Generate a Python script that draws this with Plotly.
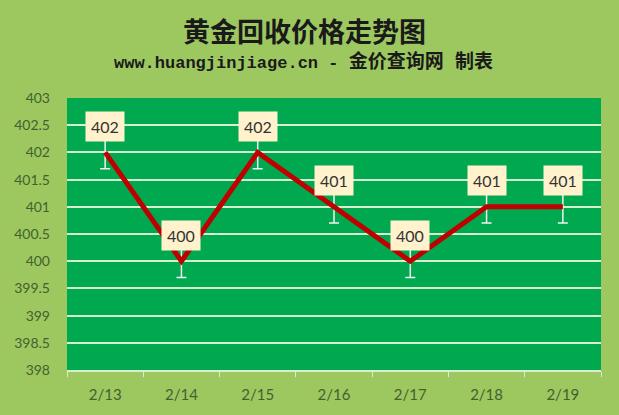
import plotly.graph_objects as go

# 日期与回收价格
dates = ["2/13", "2/14", "2/15", "2/16", "2/17", "2/18", "2/19"]
prices = [402, 400, 402, 401, 400, 401, 401]
err = [0.3, 0.3, 0.3, 0.3, 0.3, 0.3, 0.3]
y_ticks = [398, 398.5, 399, 399.5, 400, 400.5, 401, 401.5, 402, 402.5, 403]

paper_bg = "#9DC860"
plot_bg = "#00A84F"
tick_color = "#43612F"

fig = go.Figure()

fig.add_trace(go.Scatter(
    x=dates,
    y=prices,
    mode="lines",
    line=dict(color="#C00000", width=5),
    error_y=dict(type="data", array=err, color="#F2F2F2", thickness=1.5, width=5),
    hoverinfo="x+y",
))

# 数据标签（带底色）
for d, p in zip(dates, prices):
    fig.add_annotation(
        x=d, y=p, text=str(p), showarrow=False, yshift=26,
        bgcolor="#FFF2CC", borderpad=5,
        font=dict(family="Lato, Open Sans, sans-serif", size=16, color="#333333"),
    )

fig.update_layout(
    width=619,
    height=415,
    paper_bgcolor=paper_bg,
    plot_bgcolor=plot_bg,
    margin=dict(l=67, r=18, t=98, b=41),
    showlegend=False,
    title=dict(
        text="黄金回收价格走势图",
        x=0.492, xref="container", y=0.922, yanchor="middle",
        font=dict(family="Noto Sans CJK SC", size=27, color="#1A1A1A", weight="bold"),
    ),
)

fig.add_annotation(
    text=("<b>www.huangjinjiage.cn - "
          "<span style='font-size:19px'>金价查询网 制表</span></b>"),
    xref="paper", yref="paper", x=0.443, y=1.0, yshift=36,
    showarrow=False, xanchor="center", yanchor="middle",
    font=dict(family="Liberation Mono, Noto Sans CJK SC", size=17, color="#1A1A1A"),
)

fig.update_xaxes(
    type="category",
    range=[-0.5, 6.5],
    showgrid=False,
    showline=True, linecolor="#D8EED0", linewidth=1.5,
    ticks="outside", tickson="boundaries", ticklen=5, tickcolor="#D8EED0",
    tickfont=dict(family="Lato, sans-serif", size=15, color=tick_color),
    ticklabelstandoff=10,
)

fig.update_yaxes(
    range=[398, 403],
    tickvals=y_ticks,
    ticktext=[f"{v:g}" for v in y_ticks],
    showgrid=True, gridcolor="#D8EED0", gridwidth=2,
    zeroline=False,
    tickfont=dict(family="Lato, sans-serif", size=14, color=tick_color),
    ticklabelstandoff=16,
)

# 去掉页面默认边距
fig.write_html(
    "out.html",
    config={"displayModeBar": False},
    post_script="document.body.style.margin='0';",
)
